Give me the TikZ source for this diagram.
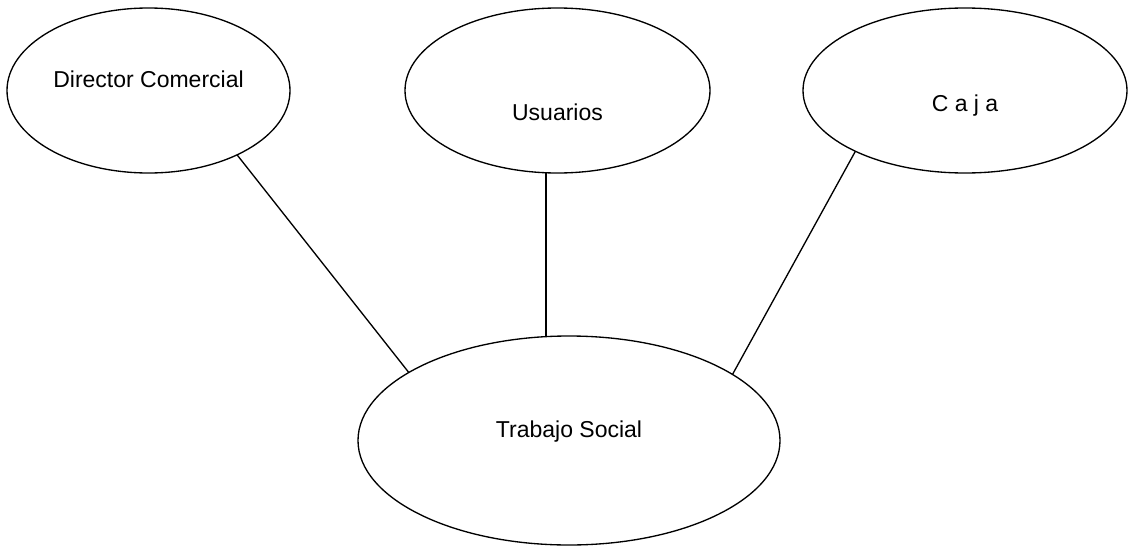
\documentclass[tikz,border=0pt]{standalone}
\usepackage{fontspec}
\setmainfont{Liberation Sans}
\usetikzlibrary{shapes.geometric}
\tikzset{
  bubble/.style={draw, ellipse, line width=1pt, inner sep=0pt, outer sep=0pt},
  lbl/.style={anchor=base, inner sep=0pt, font=\fontsize{17.25}{20}\selectfont},
  link/.style={line width=1pt}
}

\begin{document}
\begin{tikzpicture}[x=0.75pt, y=-0.75pt]
  \useasboundingbox (0,0) rectangle (1128,546);
  \node[bubble, minimum width=212.25pt, minimum height=123.75pt] (dc) at (148.5,90.5) {};
  \node[bubble, minimum width=228.75pt, minimum height=123.75pt] (us) at (557.5,90.5) {};
  \node[bubble, minimum width=243pt, minimum height=123.75pt] (cj) at (965,90.5) {};
  \node[bubble, minimum width=316.5pt, minimum height=156.75pt] (ts) at (569,440.5) {};
  \node[lbl] (dc-t) at ([yshift=1.9pt]dc.center) {Director Comercial};
  \node[lbl] (us-t) at ([yshift=-22.5pt]us.center) {Usuarios};
  \node[lbl] (cj-t) at ([yshift=-15.9pt]cj.center) {C a j a};
  \node[lbl] (ts-t) at ([yshift=1.9pt]ts.center) {Trabajo Social};
  \draw[link] (dc.-36) -- (ts.157.6);
  \draw[link] (us.-98) -- (us.-98 |- ts.north);
  \draw[link] (cj.209.9) -- (ts.22.4);
\end{tikzpicture}
\end{document}
